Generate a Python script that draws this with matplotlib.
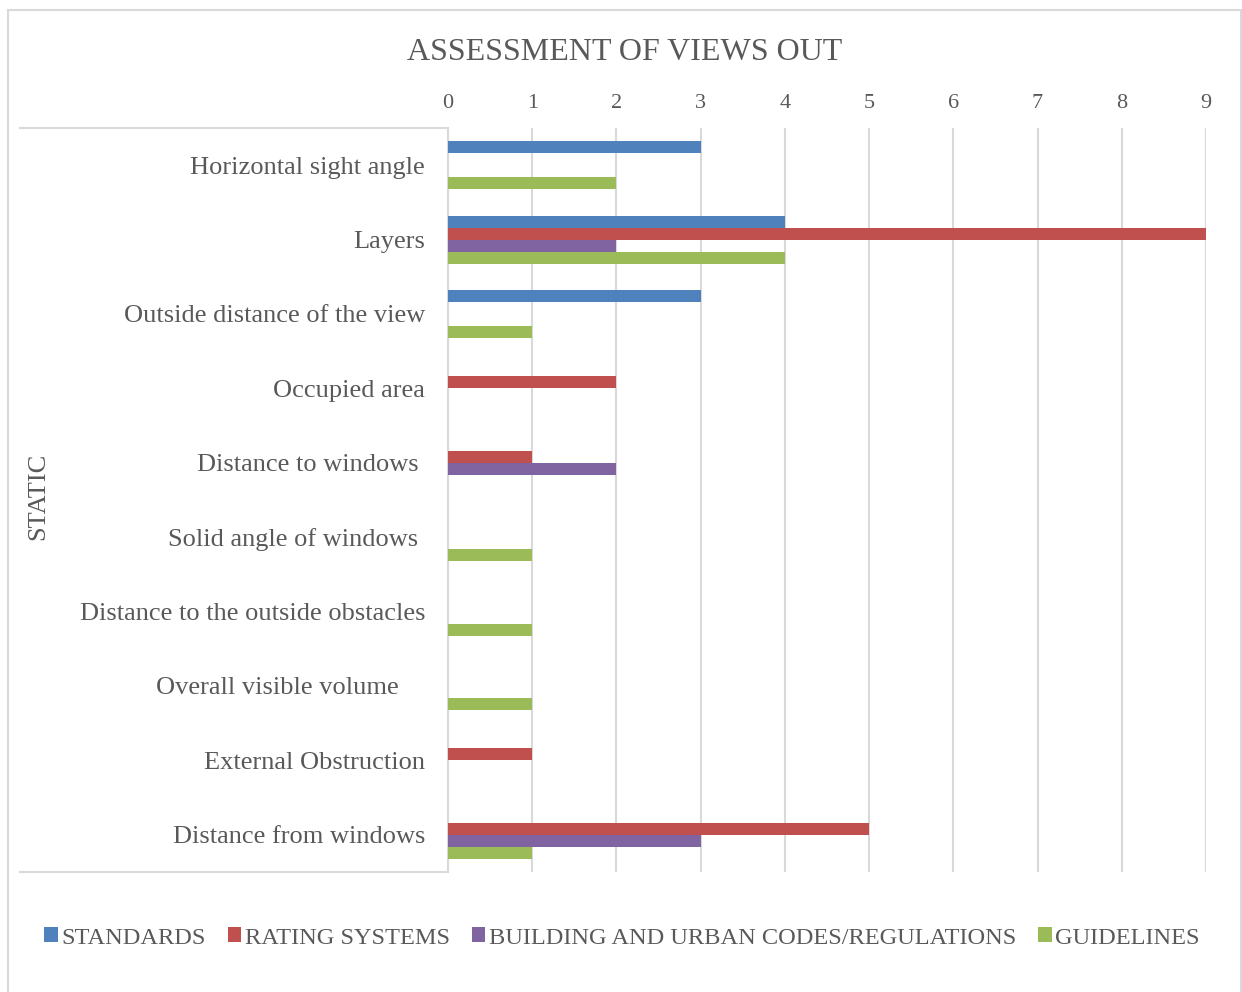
import matplotlib.pyplot as plt
from matplotlib.lines import Line2D
from matplotlib.patches import Rectangle, Patch
import numpy as np

categories = [
    "Horizontal sight angle",
    "Layers",
    "Outside distance of the view",
    "Occupied area",
    "Distance to windows ",
    "Solid angle of windows ",
    "Distance to the outside obstacles",
    "Overall visible volume    ",
    "External Obstruction",
    "Distance from windows",
]
series_names = ["STANDARDS", "RATING SYSTEMS",
                "BUILDING AND URBAN CODES/REGULATIONS", "GUIDELINES"]
standards = [3, 4, 3, 0, 0, 0, 0, 0, 0, 0]
rating_systems = [0, 9, 0, 2, 1, 0, 0, 0, 1, 5]
codes_regulations = [0, 2, 0, 0, 2, 0, 0, 0, 0, 3]
guidelines = [2, 4, 1, 0, 0, 1, 1, 1, 0, 1]
x_ticks = list(range(0, 10))

colors = ["#4F81BD", "#C0504D", "#8064A2", "#9BBB59"]
text_color = "#595959"
grid_color = "#D9D9D9"


def main() -> None:
    plt.rcParams["font.family"] = ["Liberation Serif", "DejaVu Serif"]

    W, H = 1242, 992
    fig = plt.figure(figsize=(W / 100, H / 100), dpi=100)
    ax = fig.add_axes([448 / W, 1 - 872 / H, (1206 - 448) / W, (872 - 128) / H])

    y = np.arange(len(categories))
    h = 0.1613
    all_series = [standards, rating_systems, codes_regulations, guidelines]
    for i, (vals, c) in enumerate(zip(all_series, colors)):
        offs = (i - 1.5) * h
        vals = np.array(vals, dtype=float)
        mask = vals > 0
        ax.barh(y[mask] + offs, vals[mask], height=h, color=c, zorder=3)

    ax.set_ylim(len(categories) - 0.5, -0.5)
    ax.set_xlim(0, 9)

    ax.xaxis.tick_top()
    ax.set_xticks(x_ticks)
    ax.tick_params(axis="x", length=0, pad=11, labelsize=16, labelcolor=text_color)
    ax.grid(axis="x", color=grid_color, linewidth=1.5, zorder=0)

    # trailing spaces in the labels keep the original ragged right edge
    ax.set_yticks(y)
    ax.set_yticklabels(categories, fontsize=19, color=text_color)
    ax.tick_params(axis="y", length=0, pad=16.5)

    for side in ["top", "right", "bottom"]:
        ax.spines[side].set_visible(False)
    ax.spines["left"].set_color(grid_color)
    ax.spines["left"].set_linewidth(1.5)

    # category box lines
    for yy in (128, 872):
        fig.add_artist(Line2D([20 / W, 448 / W], [1 - yy / H, 1 - yy / H],
                              transform=fig.transFigure, color=grid_color, lw=1.5))

    # outer chart border
    fig.add_artist(Rectangle((8 / W, -0.05), (1241 - 8) / W, 1.05 - 10 / H,
                             transform=fig.transFigure, fill=False,
                             edgecolor=grid_color, lw=1.5))

    fig.text(625 / W, 1 - 52 / H, "ASSESSMENT OF VIEWS OUT", ha="center",
             va="center", fontsize=23, color=text_color)
    fig.text(38 / W, 0.5, "STATIC", rotation=90, ha="center", va="center",
             fontsize=19, color=text_color)

    handles = [Patch(facecolor=c, edgecolor="none") for c in colors]
    fig.legend(handles, series_names, loc="center", ncol=4,
               bbox_to_anchor=(622 / W, 1 - 938 / H), frameon=False,
               fontsize=17.6, labelcolor=text_color, handlelength=0.55,
               handleheight=0.55, handletextpad=0.15, columnspacing=0.9)

    fig.savefig("out.png", dpi=100)


if __name__ == "__main__":
    main()
